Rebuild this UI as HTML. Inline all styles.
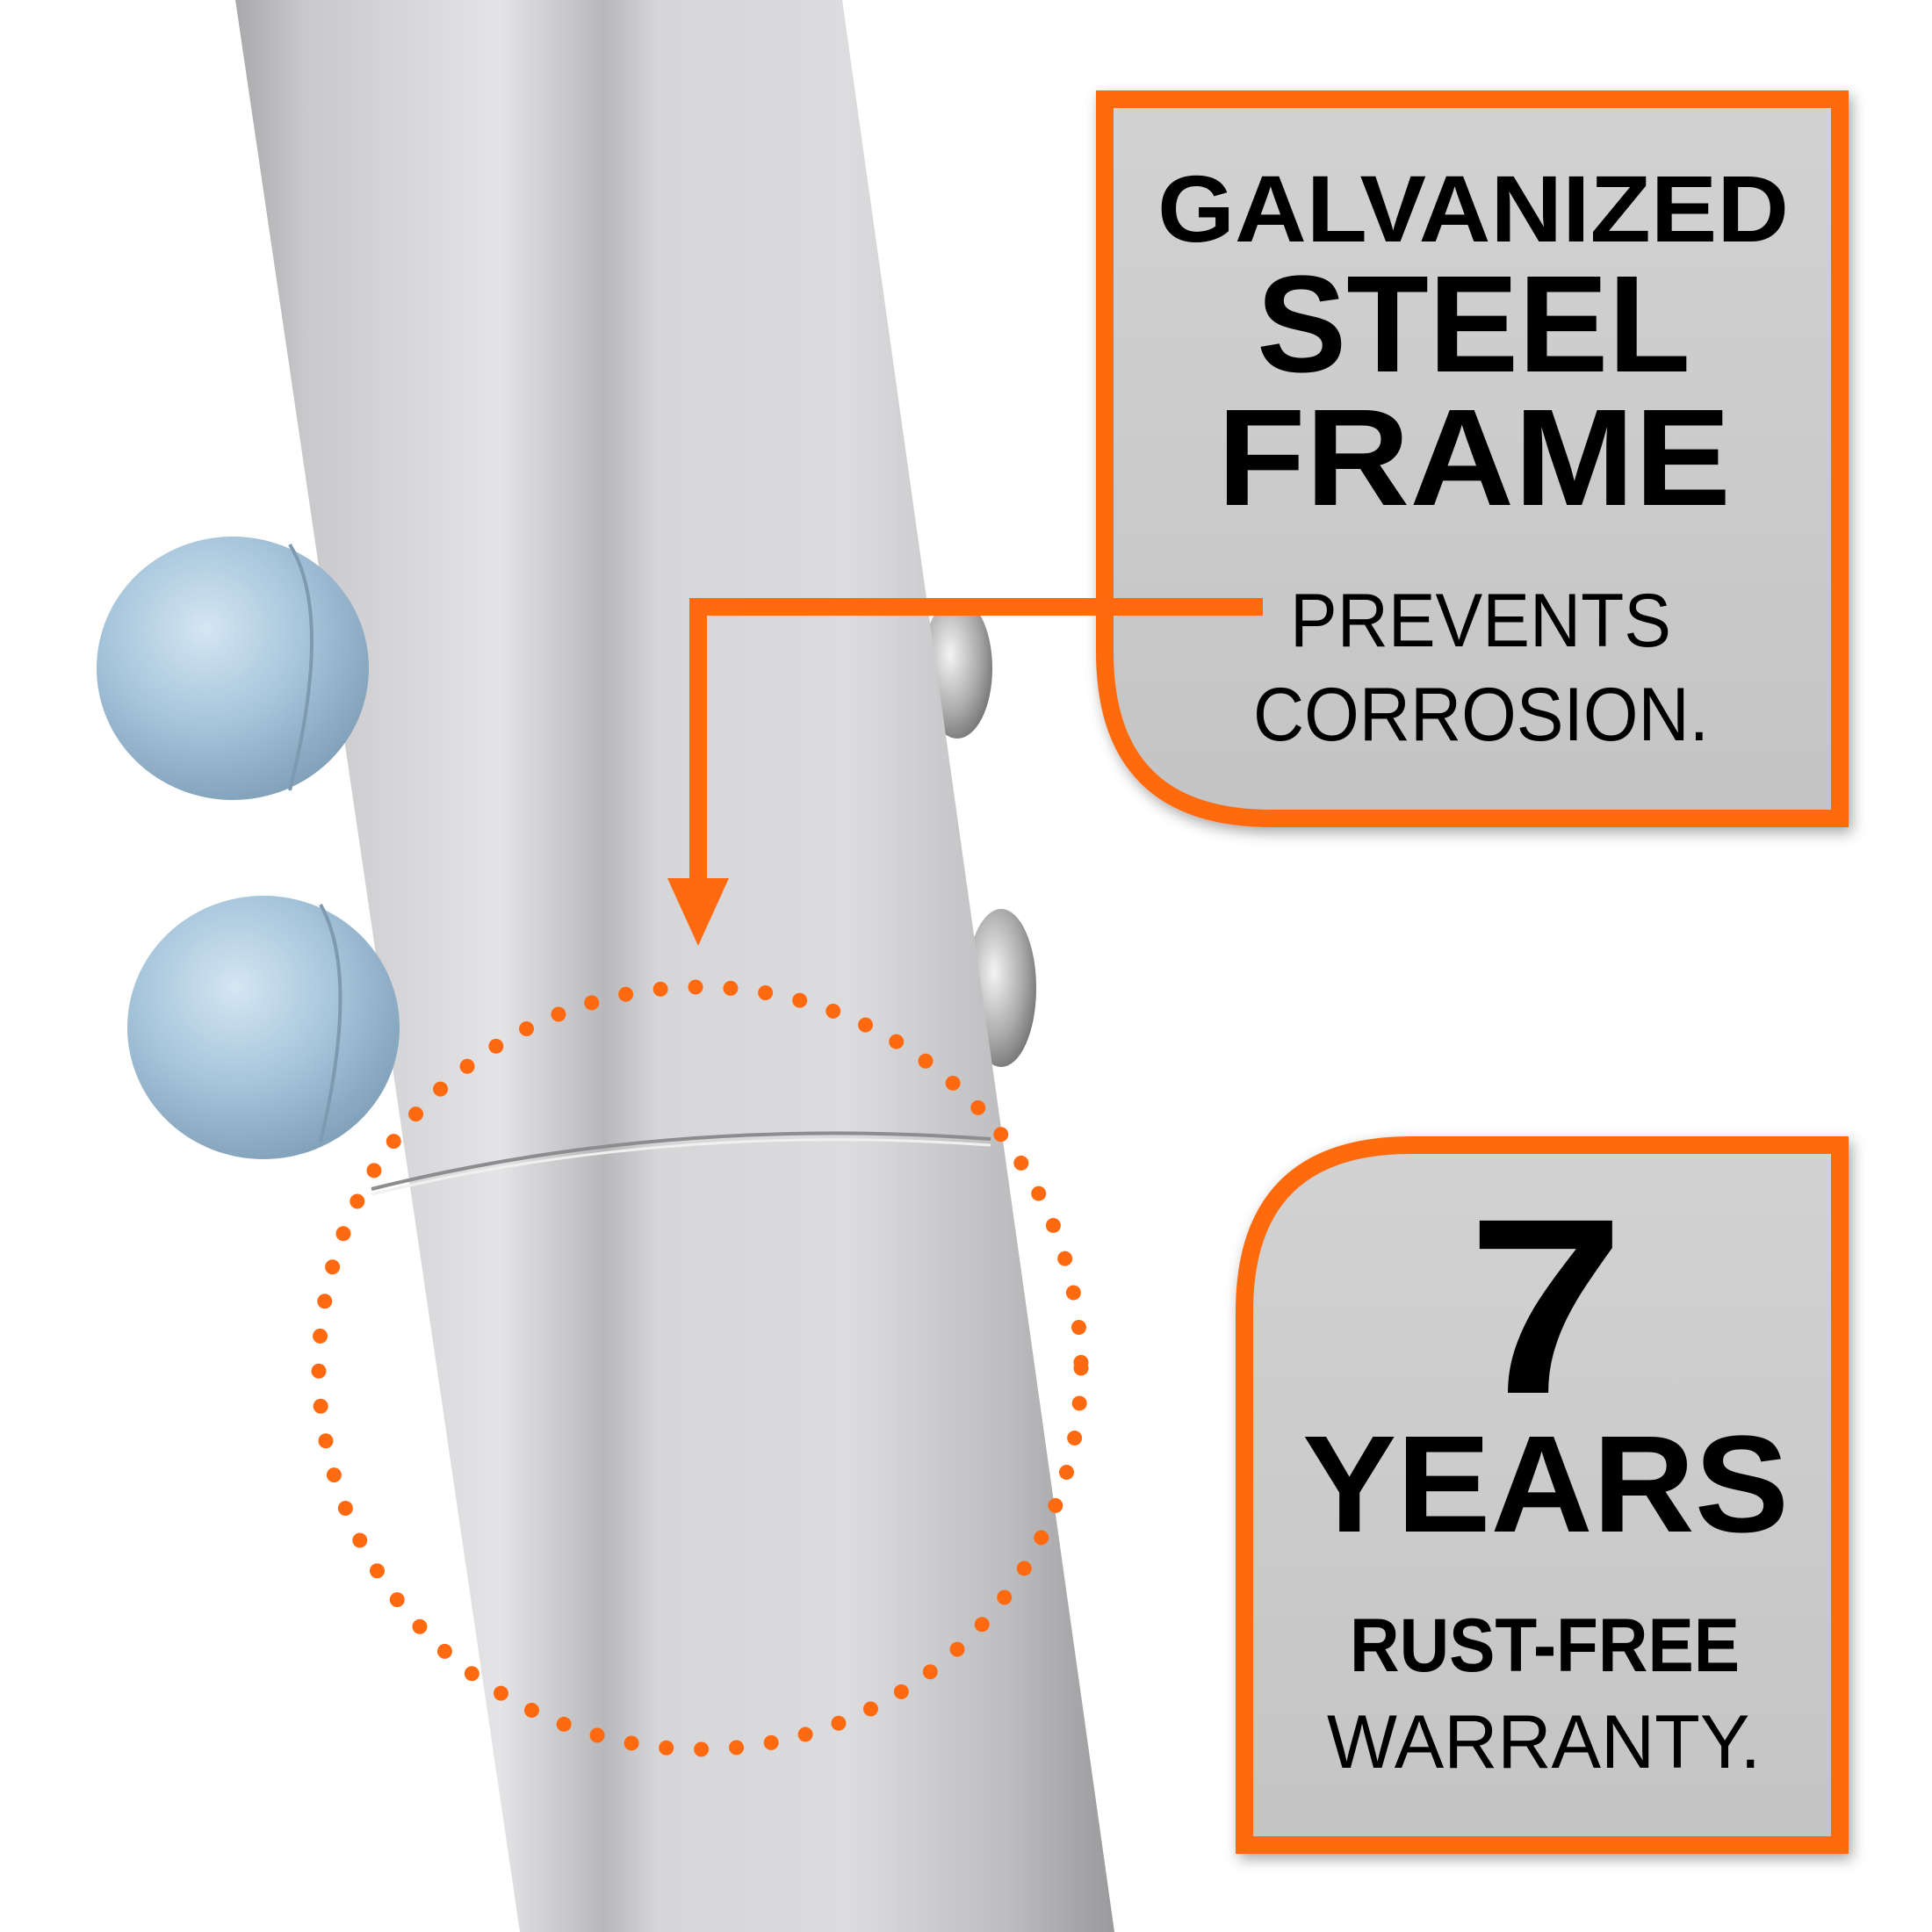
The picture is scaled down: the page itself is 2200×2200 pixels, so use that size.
<!DOCTYPE html>
<html><head><meta charset="utf-8"><style>
html,body{margin:0;padding:0;background:#fff;}
svg{display:block;}
</style></head><body>
<svg width="2200" height="2200" viewBox="0 0 2200 2200" xmlns="http://www.w3.org/2000/svg">
<defs>
<linearGradient id="pole" x1="0" y1="0" x2="1" y2="0">
<stop offset="0" stop-color="#a9a9ab"/>
<stop offset="0.08" stop-color="#c9c9cb"/>
<stop offset="0.3" stop-color="#e4e4e6"/>
<stop offset="0.42" stop-color="#b8b8ba"/>
<stop offset="0.48" stop-color="#d6d6d8"/>
<stop offset="0.7" stop-color="#dcdcde"/>
<stop offset="0.88" stop-color="#bdbdbf"/>
<stop offset="1" stop-color="#9a9a9c"/>
</linearGradient>
<linearGradient id="box" x1="0" y1="0" x2="0" y2="1">
<stop offset="0" stop-color="#d2d2d2"/>
<stop offset="1" stop-color="#c4c4c4"/>
</linearGradient>
<radialGradient id="cap" cx="0.4" cy="0.35" r="0.7">
<stop offset="0" stop-color="#d4e6f2"/>
<stop offset="0.5" stop-color="#a8c6dc"/>
<stop offset="1" stop-color="#7f9fb8"/>
</radialGradient>
<radialGradient id="bolt" cx="0.4" cy="0.4" r="0.7">
<stop offset="0" stop-color="#f4f4f4"/>
<stop offset="0.6" stop-color="#a9a9a9"/>
<stop offset="1" stop-color="#6a6a6a"/>
</radialGradient>
<filter id="sh" x="-10%" y="-10%" width="120%" height="120%">
<feDropShadow dx="4" dy="6" stdDeviation="8" flood-color="#000" flood-opacity="0.35"/>
</filter>
</defs>
<rect width="2200" height="2200" fill="#fff"/>
<ellipse cx="1090" cy="761" rx="40" ry="80" fill="url(#bolt)"/>
<ellipse cx="1140" cy="1125" rx="40" ry="90" fill="url(#bolt)"/>
<polygon points="268,0 959,0 1269,2200 592,2200" fill="url(#pole)"/>
<path d="M423,1354 Q760,1270 1128,1297" fill="none" stroke="#8d8d8f" stroke-width="4"/>
<path d="M423,1360 Q760,1278 1128,1304" fill="none" stroke="#f0f0f0" stroke-width="3"/>
<ellipse cx="265" cy="761" rx="155" ry="150" fill="url(#cap)"/>
<path d="M330,620 Q380,700 330,900" fill="none" stroke="#7e9ab0" stroke-width="4"/>
<ellipse cx="300" cy="1170" rx="155" ry="150" fill="url(#cap)"/>
<path d="M365,1030 Q410,1110 365,1300" fill="none" stroke="#7e9ab0" stroke-width="4"/>
<circle cx="797" cy="1558" r="434" fill="none" stroke="#ff6a10" stroke-width="17" stroke-linecap="round" stroke-dasharray="0 40"/>
<path d="M1258,113 H2095 V932 H1448 Q1258,932 1258,742 Z" fill="url(#box)" stroke="#ff6a10" stroke-width="20" filter="url(#sh)"/>
<path d="M1438,691 H795 V1010" fill="none" stroke="#ff6a10" stroke-width="20"/>
<polygon points="760,1000 830,1000 795,1077" fill="#ff6a10"/>
<path d="M1607,1304 H2095 V2101 H1417 V1494 Q1417,1304 1607,1304 Z" fill="url(#box)" stroke="#ff6a10" stroke-width="20" filter="url(#sh)"/>
<g font-family="Liberation Sans, sans-serif" font-weight="bold" fill="#000">
<text x="1318" y="275" font-size="108" textLength="719" lengthAdjust="spacingAndGlyphs">GALVANIZED</text>
<text x="1431" y="423" font-size="157" textLength="494" lengthAdjust="spacingAndGlyphs">STEEL</text>
<text x="1386" y="575" font-size="157" textLength="585" lengthAdjust="spacingAndGlyphs">FRAME</text>
<text x="1469" y="736" font-size="86" font-weight="normal" textLength="434" lengthAdjust="spacingAndGlyphs">PREVENTS</text>
<text x="1427" y="843" font-size="86" font-weight="normal" textLength="519" lengthAdjust="spacingAndGlyphs">CORROSION.</text>
<text x="1671" y="1586" font-size="285" textLength="179" lengthAdjust="spacingAndGlyphs">7</text>
<text x="1483" y="1744" font-size="157" textLength="554" lengthAdjust="spacingAndGlyphs">YEARS</text>
<text x="1537" y="1903" font-size="86" textLength="444" lengthAdjust="spacingAndGlyphs">RUST-FREE</text>
<text x="1511" y="2013" font-size="86" font-weight="normal" textLength="494" lengthAdjust="spacingAndGlyphs">WARRANTY.</text>
</g>
</svg>
</body></html>
